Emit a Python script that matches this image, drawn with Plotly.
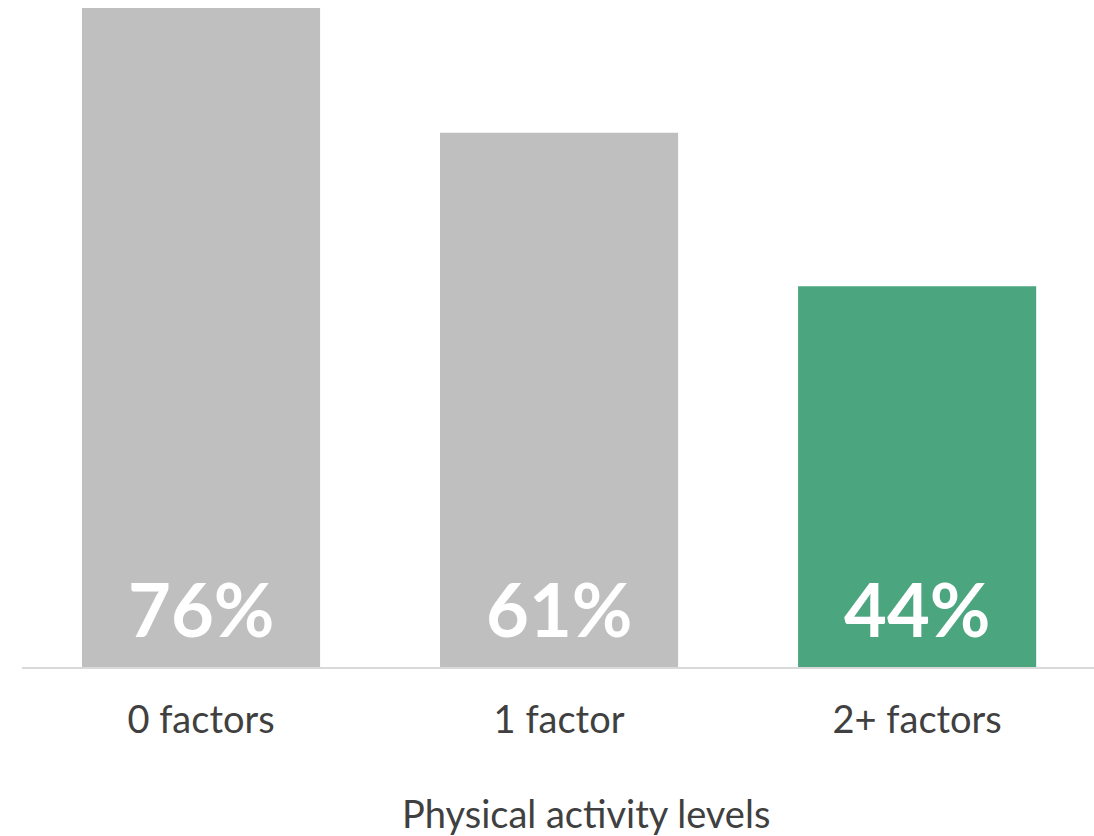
import plotly.graph_objects as go

categories = ["0 factors", "1 factor", "2+ factors"]
values = [76, 61.6, 43.9]
labels = ["76%", "61%", "44%"]
colors = ["#BFBFBF", "#BFBFBF", "#4BA57E"]
x_title = "Physical activity levels"

fig = go.Figure(go.Bar(
    x=categories, y=values,
    marker=dict(color=colors, line=dict(width=0)),
))
for c, t in zip(categories, labels):
    fig.add_annotation(
        x=c, y=0, text=t, showarrow=False, yanchor="bottom", yshift=12,
        font=dict(family="Lato", size=74, color="white", weight="bold"),
    )
fig.add_annotation(
    xref="paper", yref="paper", x=0.526, y=0, yanchor="middle", yshift=-146,
    text=x_title, showarrow=False,
    font=dict(family="Lato", size=38, color="#404040"),
)
fig.update_layout(
    width=1094, height=836,
    margin=dict(l=22, r=0, t=8, b=169),
    paper_bgcolor="white", plot_bgcolor="white",
    bargap=0.335, showlegend=False,
    font=dict(family="Lato", color="#404040"),
)
fig.update_xaxes(
    range=[-0.5, 2.494],
    showline=True, linecolor="#D9D9D9", linewidth=2,
    ticks="", tickfont=dict(size=38, color="#404040"),
    ticklabelstandoff=18,
)
fig.update_yaxes(visible=False, range=[0, 76], showgrid=False)
fig.write_html("out.html")
